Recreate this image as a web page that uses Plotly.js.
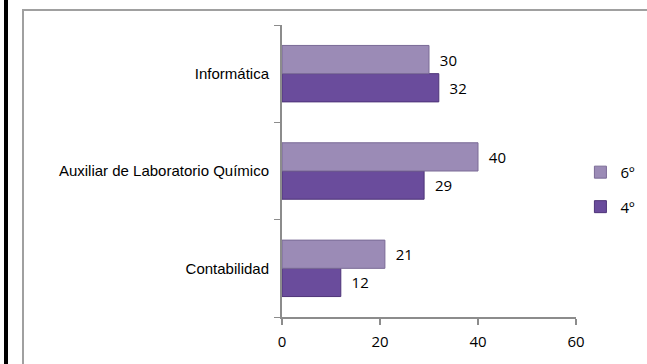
<!DOCTYPE html>
<html>
<head>
<meta charset="utf-8">
<script src="https://cdn.plot.ly/plotly-3.0.1.min.js"></script>
<style>
  html, body { margin:0; padding:0; background:#fff; }
  #wrap { position:relative; width:647px; height:364px; overflow:hidden; }
  #chart { position:absolute; left:0; top:0; width:647px; height:364px; }
  #bar { position:absolute; left:4px; top:0; width:4px; height:364px; background:#000; pointer-events:none; }
  #frame { position:absolute; left:22px; top:9px; width:700px; height:400px; border-left:2px solid #a0a0a0; border-top:2px solid #a0a0a0; pointer-events:none; }
</style>
</head>
<body>
<div id="wrap">
  <div id="chart"></div>
  <div id="bar"></div>
  <div id="frame"></div>
</div>
<script>
const categories = ["Contabilidad", "Auxiliar de Laboratorio Químico", "Informática"];
const seriesNames = ["4º", "6º"];
const values4 = [12, 29, 32];
const values6 = [21, 40, 30];
const xTicks = [0, 20, 40, 60];

const numFont = {family: "Open Sans, Noto Sans, sans-serif", size: 15, color: "#000"};
const pad = "\u00a0\u00a0";

const traces = [
  {
    type: "bar", orientation: "h", name: seriesNames[0], legendgroup: "g4", legendrank: 2,
    y: categories, x: values4,
    text: values4.map(v => pad + v), textposition: "outside", cliponaxis: false,
    textfont: numFont,
    marker: {color: "#6a4c9c", line: {color: "#4e3478", width: 1}},
    hoverinfo: "none"
  },
  {
    type: "bar", orientation: "h", name: seriesNames[1], legendgroup: "g6", legendrank: 1,
    y: categories, x: values6,
    text: values6.map(v => pad + v), textposition: "outside", cliponaxis: false,
    textfont: numFont,
    marker: {color: "#9b8bb6", line: {color: "#7a6a96", width: 1}},
    hoverinfo: "none"
  }
];

const layout = {
  width: 647, height: 364,
  margin: {l: 282, r: 71, t: 25, b: 47, autoexpand: false},
  paper_bgcolor: "#fff", plot_bgcolor: "#fff",
  barmode: "group", bargap: 0.42, bargroupgap: 0,
  showlegend: true,
  legend: {
    x: 1.015, xanchor: "left", y: 0.437, yanchor: "middle",
    traceorder: "grouped", tracegroupgap: 12,
    font: numFont, bgcolor: "rgba(0,0,0,0)", itemwidth: 30
  },
  xaxis: {
    range: [0, 60], tickvals: xTicks, ticktext: xTicks.map(String),
    showgrid: false, zeroline: false,
    showline: true, linecolor: "#8c8c8c", linewidth: 2,
    ticks: "outside", ticklen: 6, tickcolor: "#8c8c8c", tickwidth: 2,
    tickfont: numFont, ticklabelstandoff: 4, fixedrange: true
  },
  yaxis: {
    type: "category", categoryorder: "array", categoryarray: categories,
    showgrid: false, zeroline: false,
    showline: true, linecolor: "#8c8c8c", linewidth: 2,
    ticks: "outside", tickson: "boundaries", ticklen: 6, tickcolor: "#8c8c8c", tickwidth: 1,
    tickfont: {family: "Liberation Sans, Arial, sans-serif", size: 15, color: "#000"},
    ticklabelstandoff: 8, fixedrange: true
  }
};

Plotly.newPlot("chart", traces, layout, {staticPlot: true, displayModeBar: false});
</script>
</body>
</html>
